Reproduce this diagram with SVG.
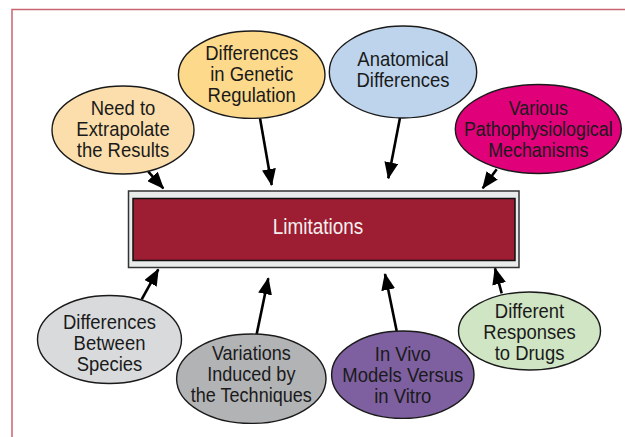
<svg xmlns="http://www.w3.org/2000/svg" width="625" height="437" viewBox="0 0 625 437">
<style>
text{font-family:"Liberation Sans",Arial,sans-serif;font-size:20.5px;text-anchor:middle;fill:#1a1a1a}
.n ellipse{stroke:#1a1a1a;stroke-width:1.4}
.c line{stroke:#000;stroke-width:2.6}
</style>
<defs>
<marker id="ah" markerUnits="userSpaceOnUse" markerWidth="17" markerHeight="14" refX="16" refY="7" orient="auto" viewBox="0 0 17 14">
<path d="M0,0 L17,7 L0,14 Z" fill="#000"/>
</marker>
</defs>
<rect width="625" height="437" fill="#fff"/>
<path d="M12,438 V9.5 H626" fill="none" stroke="#c86470" stroke-width="1.5"/>

<g id="limitations">
<rect x="128.5" y="191" width="390.5" height="76.5" fill="#e9eaea" stroke="#333" stroke-width="1.5"/>
<rect x="133" y="198.5" width="382" height="62" fill="#9d1d32" stroke="#111" stroke-width="1.5"/>
<g transform="translate(318,0) scale(0.88,1)"><text x="0" y="234.5" style="fill:#f4eeee;font-size:21.5px">Limitations</text></g>
</g>

<g id="connectors" class="c">
<line x1="148.3" y1="171.7" x2="163.3" y2="188.3" marker-end="url(#ah)"/>
<line x1="260" y1="118.3" x2="271.7" y2="185" marker-end="url(#ah)"/>
<line x1="400" y1="117.7" x2="388.3" y2="178.3" marker-end="url(#ah)"/>
<line x1="496.7" y1="169.3" x2="482.7" y2="188.3" marker-end="url(#ah)"/>
<line x1="141.7" y1="299.3" x2="158.3" y2="269.3" marker-end="url(#ah)"/>
<line x1="256.7" y1="334" x2="268.3" y2="278.3" marker-end="url(#ah)"/>
<line x1="396.7" y1="331" x2="385" y2="274" marker-end="url(#ah)"/>
<line x1="501.7" y1="293.3" x2="495" y2="268.3" marker-end="url(#ah)"/>
</g>

<g id="extrapolate" class="n">
<ellipse cx="123" cy="130" rx="71" ry="44" fill="#fbdeab"/>
<g transform="translate(123,0) scale(0.9,1)">
<text x="0" y="115">Need to</text>
<text x="0" y="136">Extrapolate</text>
<text x="0" y="157">the Results</text>
</g>
</g>
<g id="genetic" class="n">
<ellipse cx="251.7" cy="74.7" rx="73.3" ry="43.7" fill="#fcd98b"/>
<g transform="translate(251.7,0) scale(0.9,1)">
<text x="0" y="60">Differences</text>
<text x="0" y="81">in Genetic</text>
<text x="0" y="102">Regulation</text>
</g>
</g>
<g id="anatomical" class="n">
<ellipse cx="403" cy="72" rx="73.7" ry="46" fill="#bdd4ec"/>
<g transform="translate(403,0) scale(0.9,1)">
<text x="0" y="66">Anatomical</text>
<text x="0" y="87">Differences</text>
</g>
</g>
<g id="pathophysiological" class="n">
<ellipse cx="538.3" cy="129" rx="83" ry="44.5" fill="#e0007a"/>
<g transform="translate(538.3,0) scale(0.87,1)">
<text x="0" y="115">Various</text>
<text x="0" y="136">Pathophysiological</text>
<text x="0" y="157">Mechanisms</text>
</g>
</g>
<g id="species" class="n">
<ellipse cx="109.5" cy="339.5" rx="72" ry="44" fill="#d9dadc"/>
<g transform="translate(109.5,0) scale(0.9,1)">
<text x="0" y="329">Differences</text>
<text x="0" y="350">Between</text>
<text x="0" y="371">Species</text>
</g>
</g>
<g id="techniques" class="n">
<ellipse cx="251.3" cy="378.7" rx="74.7" ry="44.7" fill="#b2b3b5"/>
<g transform="translate(251.3,0) scale(0.88,1)">
<text x="0" y="360">Variations</text>
<text x="0" y="381">Induced by</text>
<text x="0" y="402">the Techniques</text>
</g>
</g>
<g id="invivo" class="n">
<ellipse cx="402.8" cy="374.7" rx="71.2" ry="43.7" fill="#7e60a0"/>
<g transform="translate(402.8,0) scale(0.9,1)">
<text x="0" y="361">In Vivo</text>
<text x="0" y="382">Models Versus</text>
<text x="0" y="403">in Vitro</text>
</g>
</g>
<g id="drugs" class="n">
<ellipse cx="529.5" cy="331" rx="71" ry="39" fill="#cfe5c3"/>
<g transform="translate(529.5,0) scale(0.9,1)">
<text x="0" y="318">Different</text>
<text x="0" y="339">Responses</text>
<text x="0" y="360">to Drugs</text>
</g>
</g>
</svg>
